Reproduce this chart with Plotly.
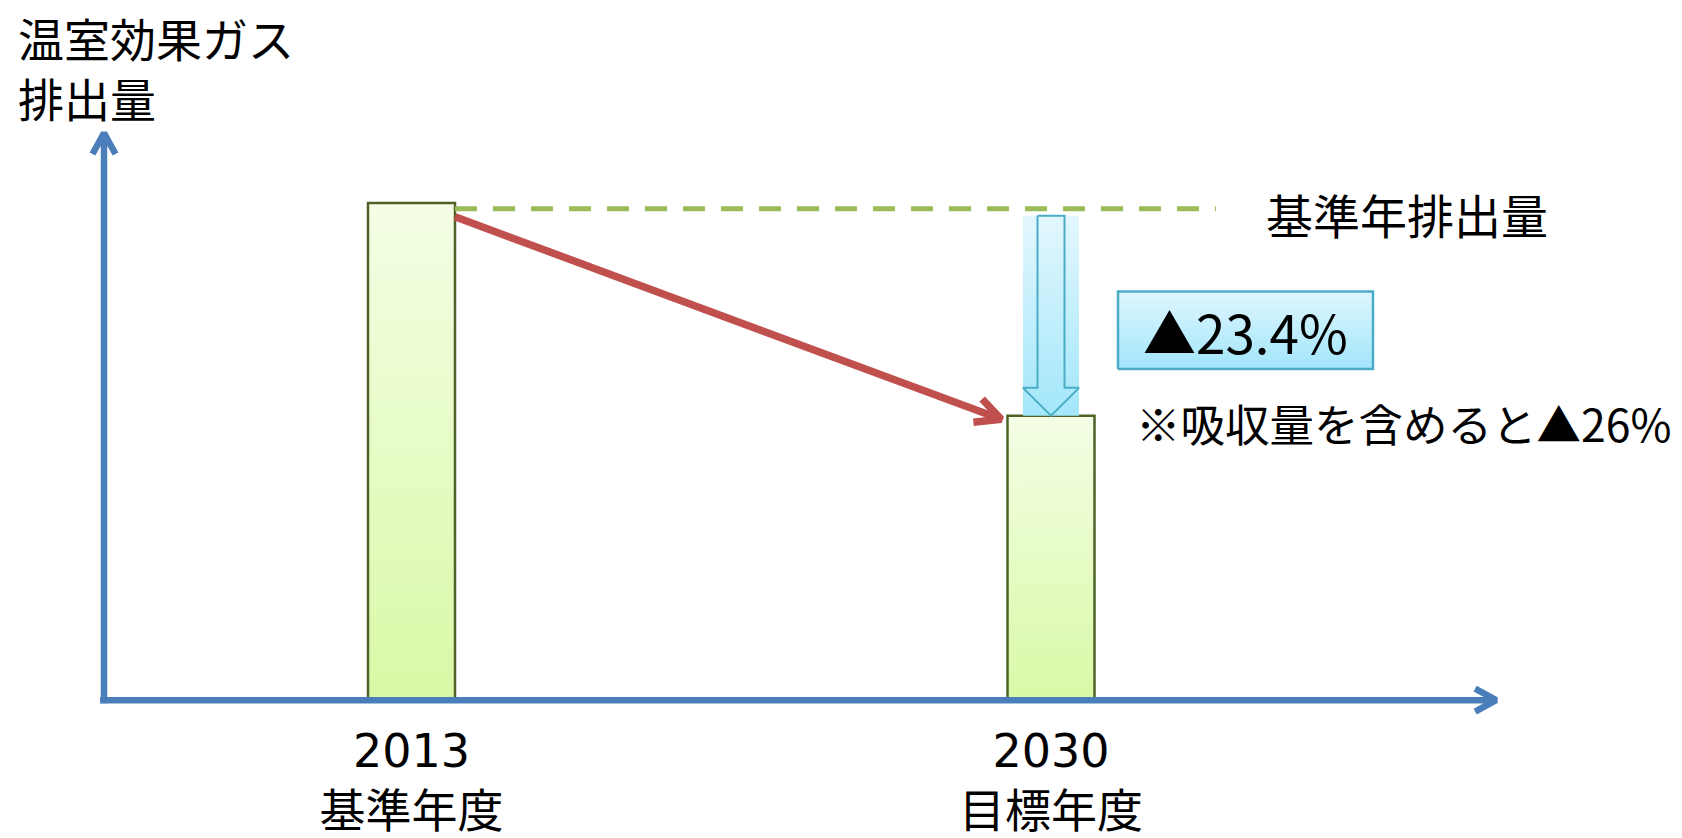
import math
import plotly.graph_objects as go

# ---- data ----
years = ["2013", "2030"]
year_labels = ["基準年度", "目標年度"]
emissions = [100.0, 57.2]          # schematic relative emission levels (as drawn)
reduction_label = "▲23.4%"
note_label = "※吸収量を含めると▲26%"
base_label = "基準年排出量"
y_title = ["温室効果ガス", "排出量"]

FONT = "Noto Sans CJK JP"
W, H = 1682, 838
AXIS_PY = 704              # pixel row of y = 0
PLOT_BOTTOM = 730          # pixel row of the plot-area bottom
X0, SX = 411.5, 639.5      # pixel of x=0, pixels per x unit
SY = 5.0                   # pixels per y unit


def X(px):
    return (px - X0) / SX


def Y(py):
    return (AXIS_PY - py) / SY


def PX(x):
    return X0 + x * SX


def PY(y):
    return AXIS_PY - y * SY


pos = list(range(len(years)))
bw = 87 / SX

fig = go.Figure()

# bars (gradient-filled rectangles built from the data)
for c, v in zip(pos, emissions):
    fig.add_trace(go.Scatter(
        x=[c - bw / 2, c + bw / 2, c + bw / 2, c - bw / 2, c - bw / 2],
        y=[0, 0, v, v, 0],
        mode="lines", fill="toself",
        fillgradient=dict(type="vertical",
                          colorscale=[[0, "#D9F9A6"], [1, "#F4FEE5"]]),
        line=dict(color="#4F6228", width=2.5),
        hoverinfo="skip", showlegend=False))

v1, v2 = emissions
c1, c2 = pos

# base-year dashed line
fig.add_trace(go.Scatter(
    x=[c1 + bw / 2, X(1216)], y=[v1 - 1.2, v1 - 1.2],
    mode="lines", line=dict(color="#9BBB59", width=5, dash="22px,16px"),
    hoverinfo="skip", showlegend=False))

# light-blue band behind the down arrow
hw = 28 / SX
top = v1 - 2.6
fig.add_trace(go.Scatter(
    x=[c2 - hw, c2 + hw, c2 + hw, c2 - hw, c2 - hw],
    y=[v2, v2, top, top, v2],
    mode="lines", fill="toself",
    fillgradient=dict(type="vertical",
                      colorscale=[[0, "#A3E7FB"], [1, "#E3F7FD"]]),
    line=dict(width=0), hoverinfo="skip", showlegend=False))

# down arrow outline
sw = 13.5 / SX
hb = v2 + 5.6
fig.add_trace(go.Scatter(
    x=[c2 - sw, c2 + sw, c2 + sw, c2 + hw, c2, c2 - hw, c2 - sw, c2 - sw],
    y=[top, top, hb, hb, v2, hb, hb, top],
    mode="lines", line=dict(color="#4BACC6", width=2),
    hoverinfo="skip", showlegend=False))

# label box for reduction
bx0, bx1, by0, by1 = X(1118), X(1373), Y(371), Y(293)
fig.add_trace(go.Scatter(
    x=[bx0, bx1, bx1, bx0, bx0], y=[by0, by0, by1, by1, by0],
    mode="lines", fill="toself",
    fillgradient=dict(type="vertical",
                      colorscale=[[0, "#A2E6FB"], [1, "#DFF6FD"]]),
    line=dict(color="#4BACC6", width=2.5),
    hoverinfo="skip", showlegend=False))


def arrow(x0, y0, x1, y1, color, width, back, spread):
    """Line with an open chevron head; coordinates in data units."""
    p0x, p0y, p1x, p1y = PX(x0), PY(y0), PX(x1), PY(y1)
    dx, dy = p1x - p0x, p1y - p0y
    L = math.hypot(dx, dy)
    ux, uy = dx / L, dy / L
    nx, ny = -uy, ux
    tx, ty = p1x - ux * width * 0.9, p1y - uy * width * 0.9
    a1 = (tx - ux * back + nx * spread, ty - uy * back + ny * spread)
    a2 = (tx - ux * back - nx * spread, ty - uy * back - ny * spread)
    fig.add_trace(go.Scatter(
        x=[x0, X(tx)], y=[y0, Y(ty)], mode="lines",
        line=dict(color=color, width=width),
        hoverinfo="skip", showlegend=False))
    fig.add_trace(go.Scatter(
        x=[X(a1[0]), X(tx), X(a2[0])], y=[Y(a1[1]), Y(ty), Y(a2[1])],
        mode="lines", line=dict(color=color, width=width),
        hoverinfo="skip", showlegend=False))


# axes
arrow(X(104), Y(707), X(104), Y(128), "#4A7EBB", 6.5, 21, 11.5)
arrow(X(100), 0, X(1502), 0, "#4A7EBB", 6.5, 21, 11.5)
# red trend arrow from the base-year bar to the target-year bar
arrow(c1 + bw / 2, v1 - 2.8, c2 - bw / 2, v2 - 1.2, "#C0504D", 7.5, 25, 12.5)

annotations = []
annotations.append(dict(x=X(1245), y=Y(333), xref="x", yref="y",
                        text=reduction_label, showarrow=False,
                        font=dict(family=FONT, size=53, color="#000000")))
annotations.append(dict(x=X(1403), y=Y(425), xref="x", yref="y",
                        text=note_label, showarrow=False,
                        font=dict(family=FONT, size=44.5, color="#000000")))
annotations.append(dict(x=X(1407), y=Y(215), xref="x", yref="y",
                        text=base_label, showarrow=False,
                        font=dict(family=FONT, size=47, color="#000000")))
annotations.append(dict(x=X(16), y=1, xref="x", yref="paper",
                        xanchor="left", yanchor="top", align="left",
                        yshift=-2,
                        text="<br>".join(y_title), showarrow=False,
                        font=dict(family=FONT, size=46, color="#000000")))

fig.update_layout(
    width=W, height=H, autosize=False,
    margin=dict(l=0, r=0, t=0, b=H - PLOT_BOTTOM, pad=0),
    paper_bgcolor="white", plot_bgcolor="white",
    showlegend=False,
    annotations=annotations,
    xaxis=dict(range=[X(0), X(W)], showgrid=False, zeroline=False,
               showline=False, ticks="",
               tickvals=pos,
               ticktext=[f"{y}<br>{l}" for y, l in zip(years, year_labels)],
               tickfont=dict(family="DejaVu Sans, " + FONT, size=46,
                             color="#000000"),
               ticklabelstandoff=-6,
               fixedrange=True),
    yaxis=dict(range=[Y(PLOT_BOTTOM), Y(0)], showgrid=False, zeroline=False,
               showline=False, showticklabels=False, ticks="",
               fixedrange=True),
)

fig.write_html("out.html",
               config={"displayModeBar": False},
               post_script="document.body.style.margin='0px';")
